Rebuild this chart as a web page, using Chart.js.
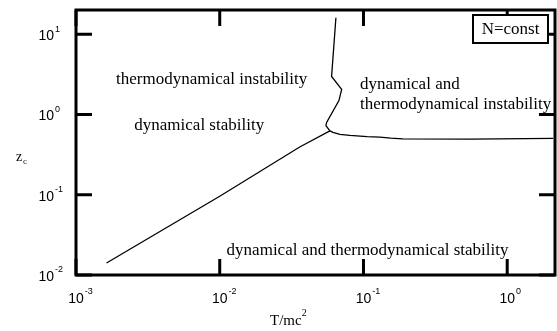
<!DOCTYPE html>
<html>
<head>
<meta charset="utf-8">
<script src="https://cdn.jsdelivr.net/npm/chart.js@4"></script>
<style>
  body { margin: 0; background: #fff; }
</style>
</head>
<body>
<canvas id="grafico" width="557" height="331"></canvas>
<script>
// curve data (T/mc^2 , z_c)
const lowerT = [0.00163, 0.01, 0.036, 0.0584];
const lowerZ = [0.0141, 0.0957, 0.393, 0.624];

const upperT = [0.0643, 0.0600, 0.0705, 0.0675, 0.0554, 0.0548, 0.0584];
const upperZ = [16.0, 2.97, 2.05, 1.49, 0.794, 0.728, 0.624];

const flatT = [0.0584, 0.0613, 0.0686, 0.0805, 0.106, 0.130, 0.155, 0.188, 0.552, 2.09];
const flatZ = [0.624, 0.597, 0.564, 0.548, 0.530, 0.522, 0.508, 0.497, 0.494, 0.504];

// tick labels (decades) and their exponents
const xTicks = [0.001, 0.01, 0.1, 1];
const xExp = ['-3', '-2', '-1', '0'];
const yTicks = [0.01, 0.1, 1, 10];
const yExp = ['-2', '-1', '0', '1'];

// region labels
const regionText = ['thermodynamical instability', 'dynamical stability', 'dynamical and', 'thermodynamical instability', 'dynamical and thermodynamical stability'];
const regionT = [0.00879, 0.0072, 0.0947, 0.0947, 0.1067];
const regionZ = [2.74, 0.734, 2.38, 1.34, 0.0199];
const regionAlign = ['center', 'center', 'left', 'left', 'center'];

const pares = (xs, ys) => xs.map((x, i) => ({ x: x, y: ys[i] }));

const serif = '"Liberation Serif", "Times New Roman", serif';
const sans = '"Liberation Sans", Arial, sans-serif';

const moldura = {
  id: 'moldura',
  afterDraw(chart) {
    const ctx = chart.ctx;
    const a = chart.chartArea;
    const sx = chart.scales.x, sy = chart.scales.y;
    ctx.save();
    ctx.strokeStyle = '#000';
    ctx.fillStyle = '#000';

    // region labels
    ctx.font = '17px ' + serif;
    ctx.textBaseline = 'middle';
    regionText.forEach((t, i) => {
      ctx.textAlign = regionAlign[i];
      ctx.fillText(t, sx.getPixelForValue(regionT[i]), sy.getPixelForValue(regionZ[i]));
    });

    // frame
    ctx.lineWidth = 3;
    ctx.strokeRect(a.left, a.top, a.right - a.left, a.bottom - a.top);

    // inward ticks on all sides
    ctx.beginPath();
    xTicks.forEach(v => {
      const px = sx.getPixelForValue(v);
      ctx.moveTo(px, a.bottom); ctx.lineTo(px, a.bottom - 16);
      ctx.moveTo(px, a.top); ctx.lineTo(px, a.top + 16);
    });
    yTicks.forEach(v => {
      const py = sy.getPixelForValue(v);
      ctx.moveTo(a.left, py); ctx.lineTo(a.left + 16, py);
      ctx.moveTo(a.right, py); ctx.lineTo(a.right - 16, py);
    });
    ctx.stroke();

    // tick labels
    ctx.textBaseline = 'middle';
    xTicks.forEach((v, i) => {
      const px = sx.getPixelForValue(v);
      ctx.font = '14px ' + sans;
      ctx.textAlign = 'center';
      ctx.fillText('10', px, a.bottom + 24);
      const w = ctx.measureText('10').width;
      ctx.font = '9px ' + sans;
      ctx.textAlign = 'left';
      ctx.fillText(xExp[i], px + w / 2 + 1, a.bottom + 17);
    });
    yTicks.forEach((v, i) => {
      const py = sy.getPixelForValue(v);
      ctx.font = '14px ' + sans;
      ctx.textAlign = 'right';
      ctx.fillText('10', 54, py + 2);
      ctx.font = '9px ' + sans;
      ctx.textAlign = 'left';
      ctx.fillText(yExp[i], 55, py - 5);
    });

    // axis titles
    ctx.font = '14px ' + serif;
    ctx.textAlign = 'left';
    ctx.fillText('z', 16, 157);
    ctx.font = '9px ' + serif;
    ctx.fillText('c', 23, 162);

    ctx.font = '15px ' + serif;
    ctx.textBaseline = 'alphabetic';
    ctx.fillText('T/mc', 270, 325);
    const tw = ctx.measureText('T/mc').width;
    ctx.font = '10px ' + serif;
    ctx.fillText('2', 270 + tw, 316);

    // legend box
    ctx.fillStyle = '#fff';
    ctx.fillRect(473, 15, 75, 28);
    ctx.lineWidth = 2;
    ctx.strokeRect(473, 15, 75, 28);
    ctx.fillStyle = '#000';
    ctx.font = '17px ' + serif;
    ctx.textAlign = 'center';
    ctx.textBaseline = 'middle';
    ctx.fillText('N=const', 510.5, 30);
    ctx.restore();
  }
};

const linha = { borderColor: '#000', borderWidth: 1.3, pointRadius: 0, showLine: true, tension: 0, fill: false };

new Chart(document.getElementById('grafico').getContext('2d'), {
  type: 'scatter',
  data: {
    datasets: [
      Object.assign({ label: 'lower', data: pares(lowerT, lowerZ) }, linha),
      Object.assign({ label: 'upper', data: pares(upperT, upperZ) }, linha),
      Object.assign({ label: 'flat', data: pares(flatT, flatZ) }, linha)
    ]
  },
  options: {
    responsive: false,
    animation: false,
    layout: { padding: { top: 10, right: 2, left: 0, bottom: 0 } },
    plugins: { legend: { display: false }, tooltip: { enabled: false } },
    scales: {
      x: {
        type: 'logarithmic', min: 0.001, max: 2.15,
        ticks: { display: false }, grid: { display: false }, border: { display: false },
        afterFit: s => { s.height = 56; }
      },
      y: {
        type: 'logarithmic', min: 0.01, max: 20,
        ticks: { display: false }, grid: { display: false }, border: { display: false },
        afterFit: s => { s.width = 76; }
      }
    }
  },
  plugins: [moldura]
});
</script>
</body>
</html>
